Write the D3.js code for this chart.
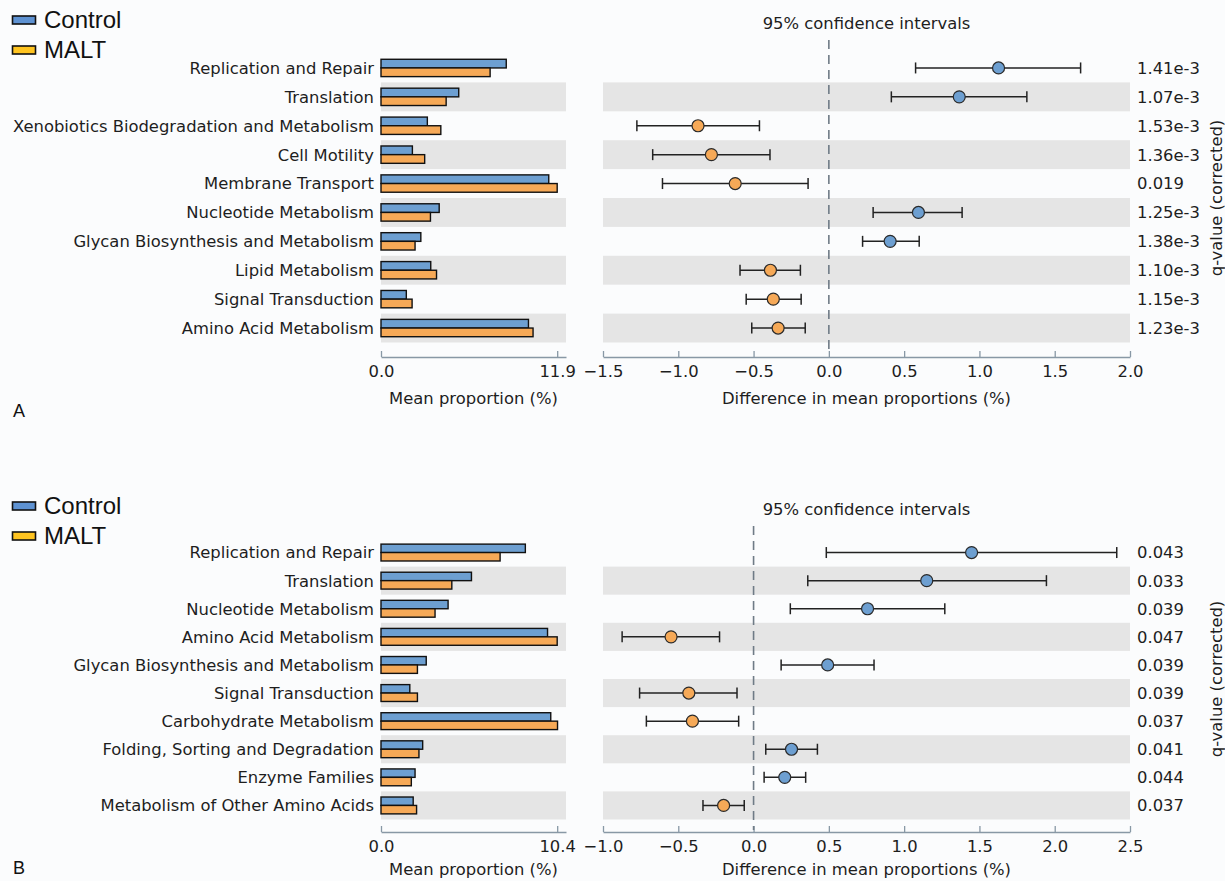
<!DOCTYPE html>
<html>
<head>
<meta charset="utf-8">
<script src="https://cdn.jsdelivr.net/npm/d3@7/dist/d3.min.js"></script>
<style>
  html, body { margin: 0; padding: 0; background: #fbfcfd; }
  svg { display: block; }
  .lbl { font-family: "DejaVu Sans", sans-serif; font-size: 16.4px; fill: #1e1e1e; }
  .legend { font-family: "Liberation Sans", Arial, sans-serif; font-size: 24px; fill: #111; }
  .letter { font-family: "Liberation Sans", Arial, sans-serif; font-size: 18px; fill: #111; }
</style>
</head>
<body>
<svg id="chart" width="1225" height="881"></svg>
<script>
// ---- Panel A: KEGG level-2 pathways, Control vs MALT ----
const categoriesA = [
  "Replication and Repair", "Translation", "Xenobiotics Biodegradation and Metabolism",
  "Cell Motility", "Membrane Transport", "Nucleotide Metabolism",
  "Glycan Biosynthesis and Metabolism", "Lipid Metabolism", "Signal Transduction",
  "Amino Acid Metabolism"
];
const controlA = [8.46, 5.25, 3.13, 2.12, 11.33, 3.93, 2.69, 3.36, 1.71, 9.96];
const maltA    = [7.37, 4.40, 4.04, 2.95, 11.90, 3.34, 2.30, 3.75, 2.10, 10.27];
const diffA    = [1.127, 0.866, -0.869, -0.780, -0.622, 0.595, 0.407, -0.388, -0.369, -0.337];
const ciLowA   = [0.576, 0.415, -1.275, -1.170, -1.105, 0.294, 0.224, -0.590, -0.549, -0.512];
const ciHighA  = [1.672, 1.315, -0.461, -0.391, -0.138, 0.885, 0.600, -0.189, -0.184, -0.157];
const qValuesA = ["1.41e-3", "1.07e-3", "1.53e-3", "1.36e-3", "0.019", "1.25e-3", "1.38e-3", "1.10e-3", "1.15e-3", "1.23e-3"];
const barTicksA = [0, 11.9];
const ciTicksA  = [-1.5, -1.0, -0.5, 0.0, 0.5, 1.0, 1.5, 2.0];

// ---- Panel B ----
const categoriesB = [
  "Replication and Repair", "Translation", "Nucleotide Metabolism", "Amino Acid Metabolism",
  "Glycan Biosynthesis and Metabolism", "Signal Transduction", "Carbohydrate Metabolism",
  "Folding, Sorting and Degradation", "Enzyme Families", "Metabolism of Other Amino Acids"
];
const controlB = [8.52, 5.34, 3.96, 9.83, 2.67, 1.70, 10.02, 2.46, 2.01, 1.90];
const maltB    = [7.03, 4.18, 3.19, 10.40, 2.15, 2.15, 10.42, 2.24, 1.79, 2.10];
const diffB    = [1.448, 1.150, 0.757, -0.548, 0.492, -0.430, -0.406, 0.252, 0.207, -0.199];
const ciLowB   = [0.483, 0.360, 0.244, -0.873, 0.183, -0.757, -0.712, 0.081, 0.070, -0.336];
const ciHighB  = [2.412, 1.945, 1.270, -0.226, 0.800, -0.110, -0.099, 0.424, 0.346, -0.062];
const qValuesB = ["0.043", "0.033", "0.039", "0.047", "0.039", "0.039", "0.037", "0.041", "0.044", "0.037"];
const barTicksB = [0, 10.4];
const ciTicksB  = [-1.0, -0.5, 0.0, 0.5, 1.0, 1.5, 2.0, 2.5];

const groups = ["Control", "MALT"];

const COLORS = {
  control: "#6d9fd1",
  malt: "#f6a957",
  legendControl: "#5e92d2",
  legendMalt: "#ffc420",
  band: "#e5e5e5",
  axis: "#8898a5",
  ink: "#1e1e1e",
  zero: "#6f7b86"
};

const svg = d3.select("#chart");
svg.append("rect").attr("width", 1225).attr("height", 881).attr("fill", "#fbfcfd");

function drawPanel(cfg) {
  const g = svg.append("g");
  const n = cfg.categories.length;
  const rowsTop = cfg.rowsTop, rowsBottom = cfg.rowsTop + cfg.step * n;

  const y = d3.scaleBand().domain(d3.range(n)).range([rowsTop, rowsBottom]).padding(0);
  const barMax = cfg.barTicks[cfg.barTicks.length - 1];
  const xBar = d3.scaleLinear().domain([0, barMax * 1.05]).range([381, 566]);
  const xCi = d3.scaleLinear().domain([cfg.ciTicks[0], cfg.ciTicks[cfg.ciTicks.length - 1]]).range([603, 1130]);

  // alternating grey bands
  d3.range(n).filter(i => i % 2 === 1).forEach(i => {
    g.append("rect").attr("x", xBar.range()[0]).attr("y", y(i))
      .attr("width", xBar.range()[1] - xBar.range()[0]).attr("height", y.bandwidth())
      .attr("fill", COLORS.band);
    g.append("rect").attr("x", xCi.range()[0]).attr("y", y(i))
      .attr("width", xCi.range()[1] - xCi.range()[0]).attr("height", y.bandwidth())
      .attr("fill", COLORS.band);
  });

  // category labels
  g.selectAll(".cat").data(cfg.categories).join("text")
    .attr("class", "lbl")
    .attr("x", 374).attr("y", (d, i) => y(i) + y.bandwidth() / 2)
    .attr("dy", "0.36em").attr("text-anchor", "end").text(d => d);

  // paired bars
  const bh = cfg.step * 0.3;
  const rows = d3.range(n).map(i => ({ i, c: cfg.control[i], m: cfg.malt[i] }));
  g.selectAll(".barC").data(rows).join("rect")
    .attr("x", xBar(0)).attr("y", d => y(d.i) + y.bandwidth() / 2 - bh)
    .attr("width", d => xBar(d.c) - xBar(0)).attr("height", bh)
    .attr("fill", COLORS.control).attr("stroke", "#111").attr("stroke-width", 1.4);
  g.selectAll(".barM").data(rows).join("rect")
    .attr("x", xBar(0)).attr("y", d => y(d.i) + y.bandwidth() / 2)
    .attr("width", d => xBar(d.m) - xBar(0)).attr("height", bh)
    .attr("fill", COLORS.malt).attr("stroke", "#111").attr("stroke-width", 1.4);

  // axes (ticks pointing up)
  function styleAxis(sel) {
    sel.select(".domain").attr("stroke", COLORS.axis).attr("stroke-width", 1.5);
    sel.selectAll(".tick line").attr("stroke", COLORS.axis).attr("stroke-width", 1.3);
    sel.selectAll(".tick text").attr("class", "lbl").attr("font-size", null)
      .attr("font-family", null).attr("fill", COLORS.ink).attr("y", 14).attr("dy", "0.36em");
  }
  const barAxis = d3.axisBottom(xBar).tickValues(cfg.barTicks).tickFormat(d3.format(".1f"))
    .tickSizeInner(-6).tickSizeOuter(0);
  g.append("g").attr("transform", `translate(0,${cfg.axisY})`).call(barAxis).call(styleAxis);

  const ciAxis = d3.axisBottom(xCi).tickValues(cfg.ciTicks).tickFormat(d3.format(".1f"))
    .tickSizeInner(-6).tickSizeOuter(0);
  g.append("g").attr("transform", `translate(0,${cfg.axisY})`).call(ciAxis).call(styleAxis);

  // axis titles
  g.append("text").attr("class", "lbl").attr("x", (xBar.range()[0] + xBar.range()[1]) / 2)
    .attr("y", cfg.axisY + cfg.titleGap).attr("dy", "0.36em").attr("text-anchor", "middle")
    .text("Mean proportion (%)");
  g.append("text").attr("class", "lbl").attr("x", (xCi.range()[0] + xCi.range()[1]) / 2)
    .attr("y", cfg.axisY + cfg.titleGap).attr("dy", "0.36em").attr("text-anchor", "middle")
    .text("Difference in mean proportions (%)");
  g.append("text").attr("class", "lbl").attr("x", (xCi.range()[0] + xCi.range()[1]) / 2)
    .attr("y", cfg.titleY).attr("dy", "0.36em").attr("text-anchor", "middle")
    .text("95% confidence intervals");

  // zero reference line
  g.append("line").attr("x1", xCi(0)).attr("x2", xCi(0))
    .attr("y1", cfg.titleY + 17).attr("y2", cfg.axisY - 2)
    .attr("stroke", COLORS.zero).attr("stroke-width", 1.6).attr("stroke-dasharray", "9,6");

  // confidence intervals
  const ci = d3.range(n).map(i => ({ i, d: cfg.diff[i], lo: cfg.ciLow[i], hi: cfg.ciHigh[i] }));
  const cy = d => y(d.i) + y.bandwidth() / 2;
  const ciG = g.append("g").attr("stroke", "#222").attr("stroke-width", 1.5);
  ciG.selectAll(".ci").data(ci).join("line")
    .attr("x1", d => xCi(d.lo)).attr("x2", d => xCi(d.hi)).attr("y1", cy).attr("y2", cy);
  ciG.selectAll(".capL").data(ci).join("line")
    .attr("x1", d => xCi(d.lo)).attr("x2", d => xCi(d.lo)).attr("y1", d => cy(d) - 5.5).attr("y2", d => cy(d) + 5.5);
  ciG.selectAll(".capR").data(ci).join("line")
    .attr("x1", d => xCi(d.hi)).attr("x2", d => xCi(d.hi)).attr("y1", d => cy(d) - 5.5).attr("y2", d => cy(d) + 5.5);
  g.selectAll(".dot").data(ci).join("circle")
    .attr("cx", d => xCi(d.d)).attr("cy", cy).attr("r", 6)
    .attr("fill", d => d.d > 0 ? COLORS.control : COLORS.malt)
    .attr("stroke", "#2a2a2a").attr("stroke-width", 1.2);

  // q-values
  g.selectAll(".q").data(cfg.qValues).join("text").attr("class", "lbl")
    .attr("x", 1137).attr("y", (d, i) => y(i) + y.bandwidth() / 2).attr("dy", "0.36em").text(d => d);
  const qMid = (rowsTop + rowsBottom) / 2;
  g.append("text").attr("class", "lbl")
    .attr("transform", `translate(1216,${qMid}) rotate(-90)`)
    .attr("text-anchor", "middle").attr("dy", "0.36em").text("q-value (corrected)");

  // legend
  const legendFill = [COLORS.legendControl, COLORS.legendMalt];
  groups.forEach((name, k) => {
    const ly = cfg.legendY + k * 30;
    g.append("rect").attr("x", 12.5).attr("y", ly - 4).attr("width", 23).attr("height", 8)
      .attr("fill", legendFill[k]).attr("stroke", "#111").attr("stroke-width", 1.6);
    g.append("text").attr("class", "legend").attr("x", 44).attr("y", ly).attr("dy", "0.35em").text(name);
  });

  // panel letter
  g.append("text").attr("class", "letter").attr("x", 13).attr("y", cfg.letterY)
    .attr("dy", "0.35em").text(cfg.letter);
}

drawPanel({
  categories: categoriesA, control: controlA, malt: maltA,
  diff: diffA, ciLow: ciLowA, ciHigh: ciHighA, qValues: qValuesA,
  barTicks: barTicksA, ciTicks: ciTicksA,
  rowsTop: 53.5, step: 28.9, axisY: 357, titleGap: 41, titleY: 23, legendY: 20, letterY: 411, letter: "A"
});

drawPanel({
  categories: categoriesB, control: controlB, malt: maltB,
  diff: diffB, ciLow: ciLowB, ciHigh: ciHighB, qValues: qValuesB,
  barTicks: barTicksB, ciTicks: ciTicksB,
  rowsTop: 538.5, step: 28.1, axisY: 832, titleGap: 37, titleY: 509, legendY: 506, letterY: 868, letter: "B"
});
</script>
</body>
</html>
